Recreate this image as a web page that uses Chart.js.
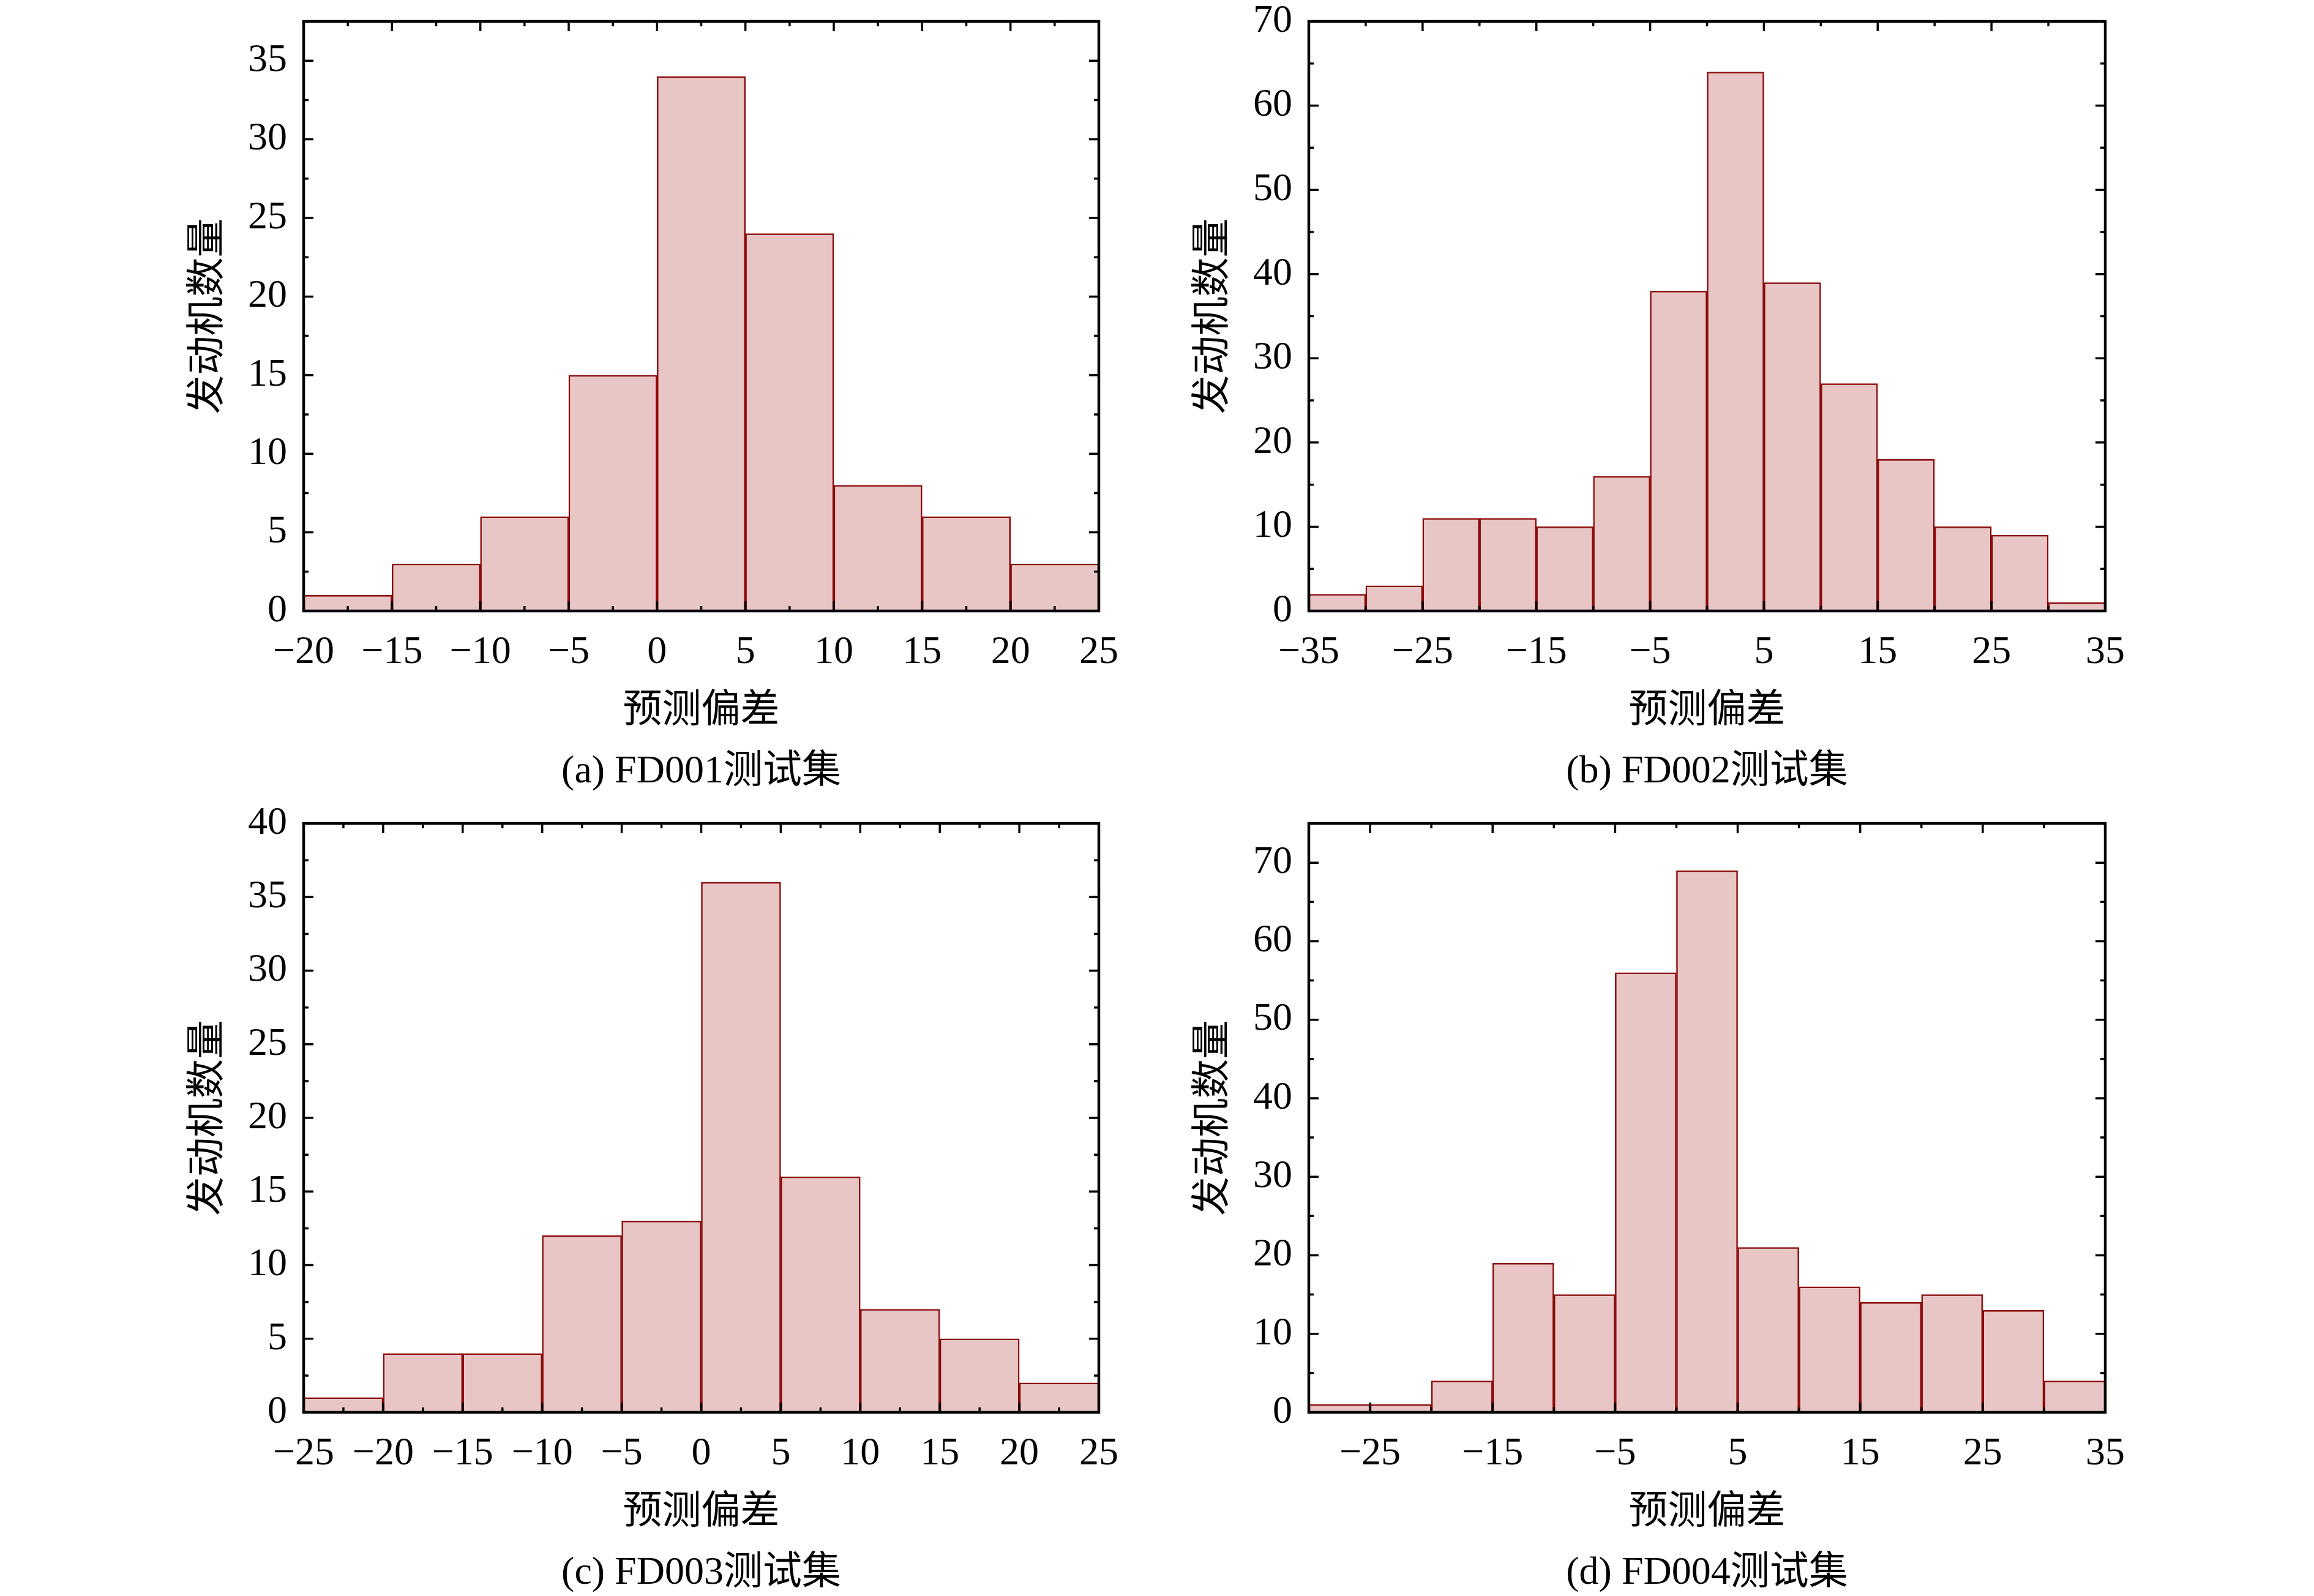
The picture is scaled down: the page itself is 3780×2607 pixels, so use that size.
<!DOCTYPE html>
<html>
<head>
<meta charset="utf-8">
<title>预测偏差直方图</title>
<script src="https://cdn.jsdelivr.net/npm/chart.js@4.4.1/dist/chart.umd.min.js"></script>
<style>
  html, body { margin: 0; padding: 0; background: #fff; overflow: hidden; }
  body { width: 3780px; height: 2607px; position: relative; }
  canvas { position: absolute; display: block; }
</style>
</head>
<body>
<canvas id="chartA"></canvas>
<canvas id="chartB"></canvas>
<canvas id="chartC"></canvas>
<canvas id="chartD"></canvas>
<script>
// bin left edges (width 5) and engine counts
const binsA = [-20, -15, -10, -5, 0, 5, 10, 15, 20];
const countsA = [1, 3, 6, 15, 34, 24, 8, 6, 3];
const binsB = [-35, -30, -25, -20, -15, -10, -5, 0, 5, 10, 15, 20, 25, 30];
const countsB = [2, 3, 11, 11, 10, 16, 38, 64, 39, 27, 18, 10, 9, 1];
const binsC = [-25, -20, -15, -10, -5, 0, 5, 10, 15, 20];
const countsC = [1, 4, 4, 12, 13, 36, 16, 7, 5, 2];
const binsD = [-30, -25, -20, -15, -10, -5, 0, 5, 10, 15, 20, 25, 30];
const countsD = [1, 1, 4, 19, 15, 56, 69, 21, 16, 14, 15, 13, 4];
const binWidth = 5;

// tick labels
const xTicksA = [-20, -15, -10, -5, 0, 5, 10, 15, 20, 25];
const yTicksA = [0, 5, 10, 15, 20, 25, 30, 35];
const xTicksB = [-35, -25, -15, -5, 5, 15, 25, 35];
const yTicksB = [0, 10, 20, 30, 40, 50, 60, 70];
const xTicksC = [-25, -20, -15, -10, -5, 0, 5, 10, 15, 20, 25];
const yTicksC = [0, 5, 10, 15, 20, 25, 30, 35, 40];
const xTicksD = [-25, -15, -5, 5, 15, 25, 35];
const yTicksD = [0, 10, 20, 30, 40, 50, 60, 70];

const captions = ['(a) FD001测试集', '(b) FD002测试集', '(c) FD003测试集', '(d) FD004测试集'];
const xTitle = '预测偏差';
const yTitle = '发动机数量';

const FILL = '#e8c6c6';
const EDGE = '#8b0a0a';
const NUM_FONT = "'Liberation Serif', 'Times New Roman', serif";
const CJK_FONT = "'Liberation Serif', 'Noto Sans CJK SC', serif";

Chart.defaults.color = '#000';

// minor ticks sit halfway between the labelled ones
function minorsOf(majors, min, max) {
  const h = (majors[1] - majors[0]) / 2;
  const out = [];
  majors.forEach(v => [v - h, v + h].forEach(m => {
    if (m >= min - 1e-9 && m <= max + 1e-9 && !majors.includes(m) && !out.includes(m)) out.push(m);
  }));
  return out;
}

const minus = v => String(v).replace('-', '\u2212');

// boxed frame with inward ticks on all four sides
const frameTicks = {
  id: 'frameTicks',
  afterDatasetsDraw(chart, args, opts) {
    const { ctx, chartArea: a } = chart;
    const x = chart.scales.x, y = chart.scales.y;
    ctx.save();
    ctx.strokeStyle = '#000';
    ctx.lineWidth = 3.5;
    const vert = (vals, len) => vals.forEach(v => {
      const px = x.getPixelForValue(v);
      ctx.beginPath();
      ctx.moveTo(px, a.bottom); ctx.lineTo(px, a.bottom - len);
      ctx.moveTo(px, a.top); ctx.lineTo(px, a.top + len);
      ctx.stroke();
    });
    const horiz = (vals, len) => vals.forEach(v => {
      const py = y.getPixelForValue(v);
      ctx.beginPath();
      ctx.moveTo(a.left, py); ctx.lineTo(a.left + len, py);
      ctx.moveTo(a.right, py); ctx.lineTo(a.right - len, py);
      ctx.stroke();
    });
    vert(opts.xMajor, 16); vert(opts.xMinor, 8);
    horiz(opts.yMajor, 16); horiz(opts.yMinor, 8);
    ctx.lineWidth = 4.5;
    ctx.strokeRect(a.left, a.top, a.width, a.height);
    ctx.restore();
  }
};

function makeHist(id, area, bins, counts, xMin, xMax, yMax, xTicks, yTicks, caption) {
  // padTop must exceed half a tick label plus tick padding, or Chart.js pushes the area down
  const padTop = 64, yAxisW = 250, padRight = 90, below = 300;
  const ph = area.b - area.t;
  const canvas = document.getElementById(id);
  const W = yAxisW + (area.r - area.l) + padRight;
  const H = padTop + ph + below;
  canvas.width = W; canvas.height = H;
  canvas.style.width = W + 'px'; canvas.style.height = H + 'px';
  canvas.style.left = (area.l - yAxisW) + 'px';
  canvas.style.top = (area.t - padTop) + 'px';

  const capLH = 64 * 1.2;
  const padBottom = below - 263 - capLH / 2;
  const xAxisH = below - padBottom - capLH;

  new Chart(canvas, {
    type: 'bar',
    data: {
      datasets: [{
        data: bins.map((b, i) => ({ x: b + binWidth / 2, y: counts[i] })),
        backgroundColor: FILL,
        borderColor: EDGE,
        borderWidth: 2.5,
        borderSkipped: 'bottom',
        barPercentage: 1,
        categoryPercentage: 1
      }]
    },
    options: {
      responsive: false,
      animation: false,
      devicePixelRatio: 1,
      layout: { padding: { top: padTop, right: padRight, left: 0, bottom: padBottom } },
      plugins: {
        legend: { display: false },
        tooltip: { enabled: false },
        title: {
          display: true,
          text: caption,
          position: 'bottom',
          fullSize: false,
          font: { family: CJK_FONT, size: 64, weight: 'normal', lineHeight: 1.2 },
          padding: 0,
          color: '#000'
        },
        frameTicks: {
          xMajor: xTicks, xMinor: minorsOf(xTicks, xMin, xMax),
          yMajor: yTicks, yMinor: minorsOf(yTicks, 0, yMax)
        }
      },
      scales: {
        x: {
          type: 'linear',
          min: xMin, max: xMax,
          offset: false,
          grid: { display: false, drawTicks: false, offset: false },
          border: { display: false },
          afterBuildTicks: s => { s.ticks = xTicks.map(v => ({ value: v })); },
          afterFit: s => { s.height = xAxisH; },
          ticks: {
            autoSkip: false, maxRotation: 0, minRotation: 0, padding: 36,
            font: { family: NUM_FONT, size: 64, lineHeight: 1 },
            callback: v => minus(v)
          },
          title: {
            display: true, text: xTitle,
            font: { family: CJK_FONT, size: 64, lineHeight: 1.2 },
            padding: { top: 0, bottom: 22 }
          }
        },
        y: {
          min: 0, max: yMax,
          grid: { display: false, drawTicks: false },
          border: { display: false },
          afterBuildTicks: s => { s.ticks = yTicks.map(v => ({ value: v })); },
          afterFit: s => { s.width = yAxisW; },
          ticks: {
            autoSkip: false, padding: 27,
            font: { family: NUM_FONT, size: 64, lineHeight: 1 },
            callback: v => minus(v)
          },
          title: {
            display: true, text: yTitle,
            font: { family: CJK_FONT, size: 64, lineHeight: 1.2 },
            padding: { top: 57, bottom: 0 }
          }
        }
      }
    },
    plugins: [frameTicks]
  });
}

makeHist('chartA', { l: 496, r: 1795, t: 35, b: 998 }, binsA, countsA, -20, 25, 37.5, xTicksA, yTicksA, captions[0]);
makeHist('chartB', { l: 2138, r: 3439, t: 35, b: 998 }, binsB, countsB, -35, 35, 70, xTicksB, yTicksB, captions[1]);
makeHist('chartC', { l: 496, r: 1795, t: 1345, b: 2307 }, binsC, countsC, -25, 25, 40, xTicksC, yTicksC, captions[2]);
makeHist('chartD', { l: 2138, r: 3439, t: 1345, b: 2307 }, binsD, countsD, -30, 35, 75, xTicksD, yTicksD, captions[3]);
</script>
</body>
</html>
